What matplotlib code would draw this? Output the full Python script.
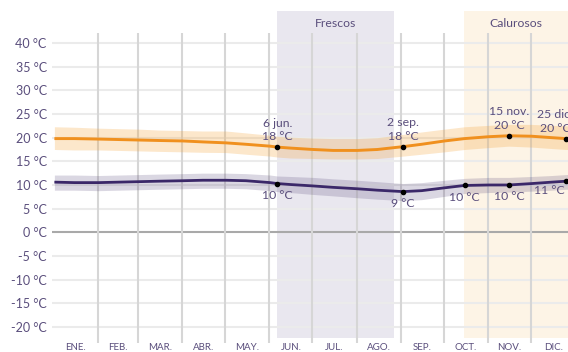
import matplotlib.pyplot as plt
import matplotlib.transforms as mtransforms

plt.rcParams['font.family'] = ['Lato', 'DejaVu Sans']

# --- Data (day of year -> °C) ---
days = [1, 15, 32, 46, 60, 74, 91, 105, 121, 135, 152, 157, 166, 182,
        196, 213, 227, 245, 258, 274, 288, 305, 319, 335, 349, 359, 365]

high = [19.8, 19.8, 19.7, 19.6, 19.5, 19.4, 19.3, 19.1, 18.9, 18.6, 18.2, 18.0, 17.8, 17.5,
        17.3, 17.3, 17.5, 18.1, 18.6, 19.3, 19.8, 20.2, 20.4, 20.3, 20.0, 19.8, 19.8]
high_p90 = [22.3, 22.2, 22.0, 21.9, 21.8, 21.6, 21.5, 21.4, 21.4, 21.0, 20.5, 20.3, 20.1, 19.9,
            19.8, 19.8, 20.0, 20.7, 21.2, 21.8, 22.3, 22.6, 22.8, 22.8, 22.6, 22.5, 22.4]
high_p10 = [17.5, 17.4, 17.4, 17.3, 17.2, 17.1, 17.0, 16.9, 16.85, 16.5, 16.1, 15.9, 15.7, 15.6,
            15.5, 15.5, 15.6, 16.1, 16.5, 17.0, 17.5, 17.9, 18.2, 18.0, 17.7, 17.5, 17.5]

low = [10.6, 10.5, 10.5, 10.6, 10.7, 10.8, 10.9, 11.0, 11.0, 10.9, 10.5, 10.3, 10.1, 9.8,
       9.5, 9.2, 8.9, 8.6, 8.8, 9.4, 9.9, 10.0, 10.0, 10.3, 10.6, 10.8, 10.9]
low_p90 = [12.1, 12.1, 12.0, 12.1, 12.2, 12.3, 12.4, 12.5, 12.5, 12.4, 12.1, 11.9, 11.8, 11.6,
           11.3, 11.0, 10.7, 10.3, 10.5, 11.0, 11.4, 11.6, 11.6, 11.8, 12.0, 12.2, 12.3]
low_p10 = [8.9, 8.9, 8.8, 8.9, 9.0, 9.1, 9.2, 9.3, 9.3, 9.2, 8.8, 8.6, 8.4, 8.0,
           7.7, 7.3, 7.0, 6.7, 6.9, 7.6, 8.2, 8.4, 8.5, 8.7, 8.9, 9.1, 9.1]

months = ['ENE.', 'FEB.', 'MAR.', 'ABR.', 'MAY.', 'JUN.',
          'JUL.', 'AGO.', 'SEP.', 'OCT.', 'NOV.', 'DIC.']
month_days = [31, 28, 31, 30, 31, 30, 31, 31, 30, 31, 30, 31]

y_ticks = [40, 35, 30, 25, 20, 15, 10, 5, 0, -5, -10, -15, -20]

# seasons: (label, first day, last day, colour)
seasons = [('Frescos', 157, 238, '#e9e7ef'),
           ('Calurosos', 288, 365, '#fdf4e6')]

# annotated days
high_notes = [(157, '6 jun.', 18), (245, '2 sep.', 18), (319, '15 nov.', 20), (359, '25 dic.', 20)]
low_notes = [(157, 10), (245, 9), (288, 10), (319, 10), (359, 11)]

# --- Style ---
TEXT = '#5a4e7c'
ORANGE = '#f0901e'
PURPLE = '#3b2869'

fig = plt.figure(figsize=(5.68, 3.52), dpi=100)
ax = fig.add_axes([0.0945, 0.0173, 0.9055, 0.9547])
X_MAX = 359.9
ax.set_xlim(0, X_MAX)
ax.set_ylim(-24, 47)
for s in ax.spines.values():
    s.set_visible(False)

t = [d - 0.5 for d in days]

# season backgrounds
for name, d0, d1, col in seasons:
    ax.fill_between([d0 - 1, d1], -22.3, 46.8, color=col, lw=0, zorder=0)
    xc = (d0 - 1 + min(d1, X_MAX)) / 2
    ax.text(xc, 44.1, name, ha='center', va='center', fontsize=8.8, color=TEXT)

# grid
ax.hlines([v for v in y_ticks if v != 0], -1.2, 366, color='#ebebeb', lw=1.5,
          zorder=1, clip_on=False)
ax.hlines(0, -1.2, 366, color='#a9a9a9', lw=1.5, zorder=1, clip_on=False)
edges = [sum(month_days[:i]) for i in range(1, 12)]
ax.vlines(edges, -23.4, 42.1, color='#d6d6d6', lw=1.5, zorder=1)

# bands and lines
ax.fill_between(t, high_p10, high_p90, color='#f5a030', alpha=0.25, lw=0, zorder=2)
ax.fill_between(t, low_p10, low_p90, color='#4a3a70', alpha=0.2, lw=0, zorder=2)
ax.plot(t, high, color=ORANGE, lw=2.1, zorder=3, solid_capstyle='butt')
ax.plot(t, low, color=PURPLE, lw=2.0, zorder=3, solid_capstyle='butt')

# annotations (the last day's labels are nudged left, as in the reference)
for d, lab, v in high_notes:
    i = days.index(d)
    ax.plot(t[i], high[i], 'o', ms=3, color='black', zorder=4, clip_on=False)
    dx = -8 if d == days[-2] else 0
    ax.annotate(f'{lab}\n{v} °C', (t[i], high[i]), xytext=(dx, 3.5),
                textcoords='offset points', ha='center', va='bottom',
                fontsize=8.8, color=TEXT, linespacing=1.3, annotation_clip=False)
for d, v in low_notes:
    i = days.index(d)
    ax.plot(t[i], low[i], 'o', ms=3, color='black', zorder=4, clip_on=False)
    dx, dy = (-12, -2.5) if d == days[-2] else (0, -4.5)
    ax.annotate(f'{v} °C', (t[i], low[i]), xytext=(dx, dy),
                textcoords='offset points', ha='center', va='top',
                fontsize=8.8, color=TEXT, annotation_clip=False)

# axes labels
ax.set_yticks(y_ticks)
ax.set_yticklabels([f'{v} °C' for v in y_ticks], fontsize=9, color=TEXT)
ax.tick_params(axis='y', length=0, pad=5)
ax.set_xticks([])

trans = mtransforms.blended_transform_factory(ax.transData, ax.transAxes)
start = 0
for m, n in zip(months, month_days):
    ax.text(start + n / 2, -0.004, m, transform=trans, ha='center', va='center',
            fontsize=7, color=TEXT, clip_on=False)
    start += n

fig.savefig('out.png', dpi=100)
